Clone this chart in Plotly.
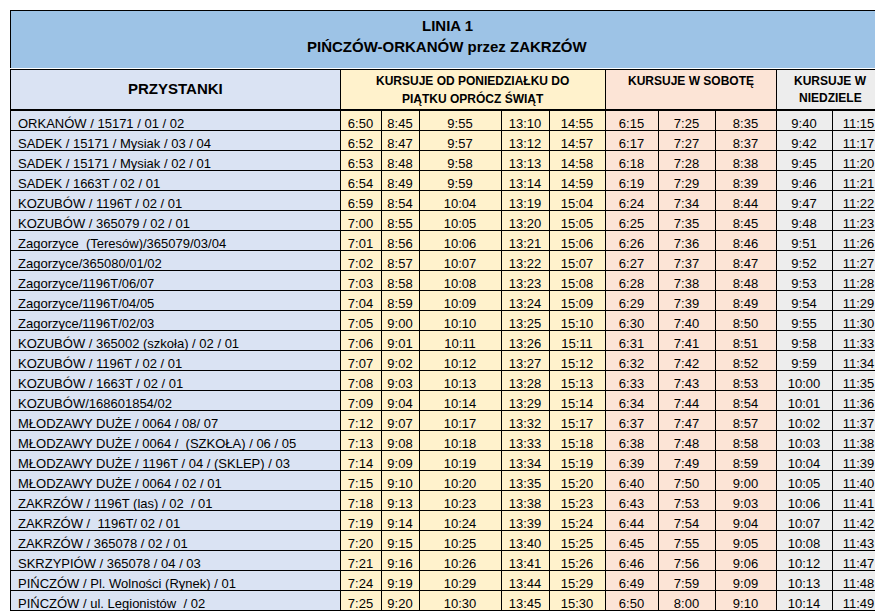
import plotly.graph_objects as go

title_lines = ["LINIA 1", "PIŃCZÓW-ORKANÓW przez ZAKRZÓW"]
groups = [["PRZYSTANKI"], ["KURSUJE OD PONIEDZIAŁKU DO", "PIĄTKU OPRÓCZ ŚWIĄT"],
          ["KURSUJE W SOBOTĘ"], ["KURSUJE W", "NIEDZIELE"]]
stops = ["ORKANÓW / 15171 / 01 / 02", "SADEK / 15171 / Mysiak / 03 / 04", "SADEK / 15171 / Mysiak / 02 / 01",
         "SADEK / 1663T / 02 / 01", "KOZUBÓW / 1196T / 02 / 01", "KOZUBÓW / 365079 / 02 / 01",
         "Zagorzyce  (Teresów)/365079/03/04", "Zagorzyce/365080/01/02", "Zagorzyce/1196T/06/07",
         "Zagorzyce/1196T/04/05", "Zagorzyce/1196T/02/03", "KOZUBÓW / 365002 (szkoła) / 02 / 01",
         "KOZUBÓW / 1196T / 02 / 01", "KOZUBÓW / 1663T / 02 / 01", "KOZUBÓW/168601854/02",
         "MŁODZAWY DUŻE / 0064 / 08/ 07", "MŁODZAWY DUŻE / 0064 /  (SZKOŁA) / 06 / 05",
         "MŁODZAWY DUŻE / 1196T / 04 / (SKLEP) / 03", "MŁODZAWY DUŻE / 0064 / 02 / 01",
         "ZAKRZÓW / 1196T (las) / 02  / 01", "ZAKRZÓW /  1196T/ 02 / 01", "ZAKRZÓW / 365078 / 02 / 01",
         "SKRZYPIÓW / 365078 / 04 / 03", "PIŃCZÓW / Pl. Wolności (Rynek) / 01", "PIŃCZÓW / ul. Legionistów  / 02"]
wd1 = ["6:50","6:52","6:53","6:54","6:59","7:00","7:01","7:02","7:03","7:04","7:05","7:06","7:07","7:08","7:09","7:12","7:13","7:14","7:15","7:18","7:19","7:20","7:21","7:24","7:25"]
wd2 = ["8:45","8:47","8:48","8:49","8:54","8:55","8:56","8:57","8:58","8:59","9:00","9:01","9:02","9:03","9:04","9:07","9:08","9:09","9:10","9:13","9:14","9:15","9:16","9:19","9:20"]
wd3 = ["9:55","9:57","9:58","9:59","10:04","10:05","10:06","10:07","10:08","10:09","10:10","10:11","10:12","10:13","10:14","10:17","10:18","10:19","10:20","10:23","10:24","10:25","10:26","10:29","10:30"]
wd4 = ["13:10","13:12","13:13","13:14","13:19","13:20","13:21","13:22","13:23","13:24","13:25","13:26","13:27","13:28","13:29","13:32","13:33","13:34","13:35","13:38","13:39","13:40","13:41","13:44","13:45"]
wd5 = ["14:55","14:57","14:58","14:59","15:04","15:05","15:06","15:07","15:08","15:09","15:10","15:11","15:12","15:13","15:14","15:17","15:18","15:19","15:20","15:23","15:24","15:25","15:26","15:29","15:30"]
sa1 = ["6:15","6:17","6:18","6:19","6:24","6:25","6:26","6:27","6:28","6:29","6:30","6:31","6:32","6:33","6:34","6:37","6:38","6:39","6:40","6:43","6:44","6:45","6:46","6:49","6:50"]
sa2 = ["7:25","7:27","7:28","7:29","7:34","7:35","7:36","7:37","7:38","7:39","7:40","7:41","7:42","7:43","7:44","7:47","7:48","7:49","7:50","7:53","7:54","7:55","7:56","7:59","8:00"]
sa3 = ["8:35","8:37","8:38","8:39","8:44","8:45","8:46","8:47","8:48","8:49","8:50","8:51","8:52","8:53","8:54","8:57","8:58","8:59","9:00","9:03","9:04","9:05","9:06","9:09","9:10"]
su1 = ["9:40","9:42","9:45","9:46","9:47","9:48","9:51","9:52","9:53","9:54","9:55","9:58","9:59","10:00","10:01","10:02","10:03","10:04","10:05","10:06","10:07","10:08","10:12","10:13","10:14"]
su2 = ["11:15","11:17","11:20","11:21","11:22","11:23","11:26","11:27","11:28","11:29","11:30","11:33","11:34","11:35","11:36","11:37","11:38","11:39","11:40","11:41","11:42","11:43","11:47","11:48","11:49"]

W, H = 883, 611
BLUE, STOP, YEL, PINK, GRAY = "#9DC3E6", "#DAE3F3", "#FFF2CC", "#FCE4D6", "#EDEDED"
colw = [330, 41, 38, 82, 48, 56, 53, 57, 61, 56, 53]
gw = [330, 265, 171, 109]
X0, X1 = 2, 877
xd = [X0 / W, X1 / W]
font = "Liberation Sans"
line = dict(color="black", width=1)

def yd(top, bot):
    return [1 - bot / H, 1 - top / H]

fig = go.Figure()
fig.add_trace(go.Table(
    domain=dict(x=xd, y=yd(2, 61)),
    header=dict(values=[""], fill=dict(color=BLUE), line=line, height=58),
    cells=dict(values=[[]])))
fig.add_trace(go.Table(
    domain=dict(x=xd, y=yd(61, 102)),
    columnwidth=gw,
    header=dict(values=["", "", "", ""], fill=dict(color=[STOP, YEL, PINK, GRAY]), line=line, height=40),
    cells=dict(values=[[], [], [], []])))
cols = [stops, wd1, wd2, wd3, wd4, wd5, sa1, sa2, sa3, su1, su2]
fills = [STOP] + [YEL] * 5 + [PINK] * 3 + [GRAY] * 2
fig.add_trace(go.Table(
    domain=dict(x=xd, y=yd(102, 606)),
    columnwidth=colw,
    header=dict(values=[c[0] for c in cols], fill=dict(color=fills),
                line=line, height=20, align=["left"] + ["center"] * 10,
                font=dict(family=font, size=13, color="black")),
    cells=dict(values=[c[1:] for c in cols], fill=dict(color=fills), line=line,
               height=20, align=["left"] + ["center"] * 10,
               font=dict(family=font, size=13, color="black"))))

ann = []
for i, t in enumerate(title_lines):
    ann.append(dict(text="<b>%s</b>" % t, x=(X0 + X1) / 2 / W, y=1 - (18 + 21 * i) / H,
                    font=dict(family=font, size=15, color="black")))
x = X0
for w, g in zip(gw, groups):
    n = len(g)
    for j, t in enumerate(g):
        yc = 81 if n == 1 else 73 + 17 * j
        if g == ["KURSUJE W SOBOTĘ"]:
            yc = 73
        ann.append(dict(text="<b>%s</b>" % t, x=(x + w / 2) / W, y=1 - yc / H,
                        font=dict(family=font, size=15 if t == "PRZYSTANKI" else 12, color="black")))
    x += w
for a in ann:
    a.update(xref="paper", yref="paper", showarrow=False, xanchor="center", yanchor="middle")
fig.update_layout(width=W, height=H, margin=dict(l=0, r=0, t=0, b=0), paper_bgcolor="white",
                  annotations=ann)
fig.write_html("out.html")
